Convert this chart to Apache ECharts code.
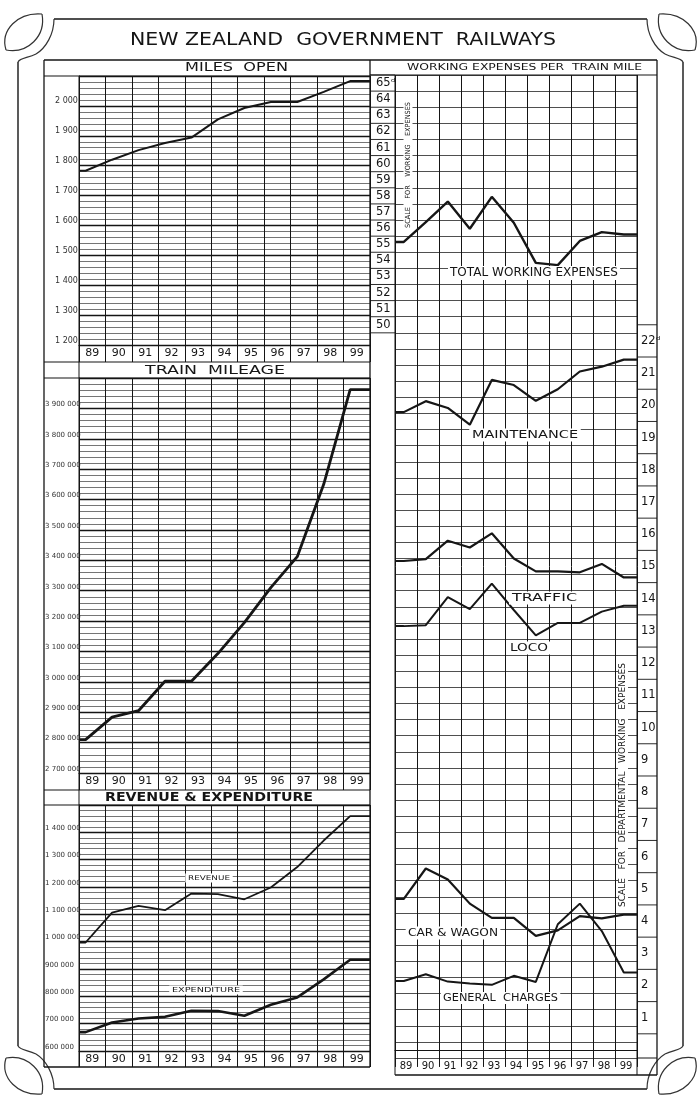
<!DOCTYPE html>
<html><head><meta charset="utf-8">
<script src="https://cdn.jsdelivr.net/npm/echarts@6/dist/echarts.min.js"></script>
<style>html,body{margin:0;padding:0;background:#fff;}#c{width:700px;height:1110px;}</style>
</head><body><div id="c"></div>
<script>
// ---------------- DATA ----------------
const years = ['89','90','91','92','93','94','95','96','97','98','99'];
const milesOpen = [1783, 1820, 1852, 1876, 1894, 1955, 1993, 2013, 2013, 2047, 2083];
const trainMileage = [2810000, 2884000, 2905000, 3002000, 3002000, 3093000, 3195000, 3310000, 3412000, 3650000, 3962000];
const revenue = [997000, 1106000, 1131000, 1115000, 1176000, 1174000, 1155000, 1198000, 1273000, 1370000, 1459000];
const expenditure = [669000, 704000, 719000, 725000, 747000, 746000, 729000, 769000, 796000, 862000, 934000];
// working expenses per train mile (pence)
const totalWorking = [55.14, 56.37, 57.65, 55.96, 57.94, 56.33, 53.84, 53.70, 55.20, 55.75, 55.60];
const maintenance = [19.79, 20.13, 19.92, 19.40, 20.79, 20.63, 20.14, 20.50, 21.05, 21.20, 21.42];
const traffic = [15.17, 15.23, 15.80, 15.59, 16.03, 15.25, 14.85, 14.85, 14.82, 15.08, 14.66];
const loco = [13.15, 13.18, 14.05, 13.68, 14.47, 13.65, 12.86, 13.25, 13.25, 13.60, 13.78];
const carWagon = [4.69, 5.63, 5.29, 4.54, 4.10, 4.10, 3.54, 3.71, 4.15, 4.08, 4.20];
const generalCharges = [2.14, 2.35, 2.12, 2.06, 2.02, 2.30, 2.11, 3.90, 4.54, 3.69, 2.40];
const totalScaleLabels = [50,51,52,53,54,55,56,57,58,59,60,61,62,63,64,65];
const deptScaleLabels = [1,2,3,4,5,6,7,8,9,10,11,12,13,14,15,16,17,18,19,20,21,22];

// ---------------- HELPERS ----------------
const OFF_L = 0.25, OFF_R = 0.4;
function pts(vals, off){
  const a = [[0, vals[0]]];
  vals.forEach((v,i)=>a.push([i+off, v]));
  a.push([years.length, vals[vals.length-1]]);
  return a;
}
const spaced = v => String(v).replace(/\B(?=(\d{3})+(?!\d))/g, ' ');
const FF = 'DejaVu Sans';
const INK = '#151515';

function catX(grid, fs, tickLen){
  return {gridIndex:grid, type:'category', data:years, boundaryGap:true, position:'bottom',
    axisLine:{show:true, lineStyle:{color:INK, width:1}},
    axisTick:{show:true, interval:0, length:tickLen, inside:false, lineStyle:{color:INK, width:1}},
    axisLabel:{show:true, interval:0, fontSize:fs, fontFamily:FF, color:INK, margin:3},
    splitLine:{show:true, interval:0, lineStyle:{color:INK, width:1}}};
}
function valX(grid){ return {gridIndex:grid, type:'value', min:0, max:years.length, show:false}; }
function leftY(grid, min, max, margin, fs){
  return {gridIndex:grid, type:'value', min, max, interval:100*(max>100000?1000:1),
    axisLine:{show:true, lineStyle:{color:INK, width:1}}, axisTick:{show:false},
    axisLabel:{show:true, formatter:v=> v===max ? '' : spaced(v), align:'left', margin,
      fontSize:fs, fontFamily:FF, color:'#333', verticalAlign:'bottom', lineHeight:fs+1},
    splitLine:{show:true, lineStyle:{color:INK, width:1.4}},
    minorTick:{show:false, splitNumber:5},
    minorSplitLine:{show:true, lineStyle:{color:'#3a3a3a', width:0.7}}};
}
function lineS(xi, yi, data, w){
  return {type:'line', xAxisIndex:xi, yAxisIndex:yi, data, symbol:'none', silent:true,
    lineStyle:{color:'#161616', width:w}, z:3};
}

const grids = [
  {left:79, top:76, width:291, height:269},
  {left:79, top:378, width:291, height:395},
  {left:79, top:805, width:291, height:246},
  {left:395, top:75, width:242, height:983}
].map(g=>Object.assign(g,{containLabel:false, outerBoundsMode:'none', show:false}));

const option = {
  animation:false,
  backgroundColor:'#ffffff',
  grid: grids,
  xAxis: [catX(0,11,17), valX(0), catX(1,11,17), valX(1), catX(2,11,16), valX(2), catX(3,10,17), valX(3)],
  yAxis: [
    leftY(0, 1200, 2100, 24, 8),
    leftY(1, 2700000, 4000000, 34, 7),
    leftY(2, 600000, 1500000, 34, 7),
    {gridIndex:3, type:'value', min:-0.25, max:30.25, position:'right',
      axisLine:{show:false}, axisTick:{show:false, customValues:deptScaleLabels}, splitLine:{show:false},
      axisLabel:{show:true, customValues:deptScaleLabels, formatter:v=> v===22 ? '22ᵈ' : String(v),
        align:'left', margin:4, fontSize:11.5, fontFamily:FF, color:INK}},
    {gridIndex:3, type:'value', min:4.5, max:65.5, position:'left',
      axisLine:{show:false}, axisTick:{show:false, customValues:totalScaleLabels}, splitLine:{show:false},
      axisLabel:{show:true, customValues:totalScaleLabels, formatter:v=> v===65 ? '65ᵈ' : String(v),
        align:'left', margin:19, fontSize:11.5, fontFamily:FF, color:INK}},
    {gridIndex:3, type:'value', min:0, max:61, interval:1, position:'left',
      axisLine:{show:false}, axisTick:{show:false}, axisLabel:{show:false},
      splitLine:{show:true, lineStyle:{color:'#222', width:0.8}}}
  ],
  series: [
    lineS(1, 0, pts(milesOpen, OFF_L), 2),
    lineS(3, 1, pts(trainMileage, OFF_L), 2.8),
    lineS(5, 2, pts(revenue, OFF_L), 1.8),
    lineS(5, 2, pts(expenditure, OFF_L), 2.6),
    lineS(7, 4, pts(totalWorking, OFF_R), 2.4),
    lineS(7, 3, pts(maintenance, OFF_R), 2.2),
    lineS(7, 3, pts(traffic, OFF_R), 2.2),
    lineS(7, 3, pts(loco, OFF_R), 2),
    lineS(7, 3, pts(carWagon, OFF_R), 2.2),
    lineS(7, 3, pts(generalCharges, OFF_R), 2)
  ]
};

const chart = echarts.init(document.getElementById('c'), null, {renderer:'canvas'});
chart.setOption(option);

// ---------------- DECORATION / TEXT ----------------
const G = [];
const L = (x1,y1,x2,y2,w,c) => G.push({type:'line', silent:true, z:1, shape:{x1,y1,x2,y2}, style:{stroke:c||INK, lineWidth:w||1}});
const mctx = document.createElement('canvas').getContext('2d');
function txt(text, a0, a1, c, size, o){
  o = o || {};
  const font = (o.weight||'normal') + ' ' + size + 'px "' + (o.family||FF) + '"';
  mctx.font = font;
  const w = mctx.measureText(text).width;
  const len = Math.abs(a1 - a0);
  const el = {type:'text', silent:true, z:20,
    x: o.vertical ? c : (a0+a1)/2, y: o.vertical ? (a0+a1)/2 : c,
    rotation: o.vertical ? Math.PI/2 : 0, scaleX: len / w,
    style:{text, font, fill:INK, align:'center', verticalAlign:'middle', textAlign:'center', textVerticalAlign:'middle'}};
  if (o.bg){ el.style.backgroundColor = '#fff'; el.style.padding = o.pad || [1,2]; }
  return el;
}
// outer ornamental frame
L(54,19,647,19,1.4); L(54,1089,647,1089,1.4); L(18,62,18,1046,1.4); L(683,62,683,1046,1.4);
function corner(fx, fy){
  const X = x => fx ? 701 - x : x, Y = y => fy ? 1108 - y : y;
  const bz = (p) => G.push({type:'bezierCurve', silent:true, z:1,
    shape:{x1:X(p[0]),y1:Y(p[1]),cpx1:X(p[2]),cpy1:Y(p[3]),cpx2:X(p[4]),cpy2:Y(p[5]),x2:X(p[6]),y2:Y(p[7])},
    style:{stroke:'#333', lineWidth:1.2, fill:'none'}});
  // concave corner cut joining the two border lines
  bz([54,19, 54,34, 46,48, 36,54]);
  bz([36,54, 28,58, 20,58, 18,62]);
  // leaf-shaped loop outside the corner
  bz([6,50, 0,30, 18,12, 42,14]);
  bz([6,50, 28,54, 46,36, 42,14]);
}
corner(false,false); corner(true,false); corner(false,true); corner(true,true);
// left box
L(44,60,657,60,1.3);
L(44,60,44,1067,1.3); L(370,60,370,1067,1.3); L(44,1067,370,1067,1.3);
[76,362,378,790,805].forEach(y=>L(44,y,370,y,1.1));
L(79,76,79,1067,1);
// right box
L(657,60,657,1075,1.3); L(370,75,657,75,1); L(395,75,395,1075,1); L(637,75,637,1075,1);
L(395,1075,657,1075,1.3); L(637,1058,657,1058,1);
// scale columns separators through the library's axes
for (let t = 49.5; t <= 65.5; t += 1){ const y = chart.convertToPixel({yAxisIndex:4}, t); L(370,y,395,y,0.9); }
for (let d = 0.5; d <= 22.5; d += 1){ const y = chart.convertToPixel({yAxisIndex:3}, d); L(637,y,657,y,0.9); }
// headings
G.push(txt('NEW ZEALAND  GOVERNMENT  RAILWAYS', 130, 556, 40, 18));
G.push(txt('MILES  OPEN', 185, 288, 68, 11.5));
G.push(txt('TRAIN  MILEAGE', 145, 285, 370.5, 13));
G.push(txt('REVENUE & EXPENDITURE', 105, 313, 797.5, 12.5, {weight:'bold'}));
G.push(txt('WORKING EXPENSES PER  TRAIN MILE', 407, 642, 68, 9.5));
// annotations
G.push(txt('TOTAL WORKING EXPENSES', 450, 618, 273, 12, {bg:true}));
G.push(txt('MAINTENANCE', 472, 578, 435, 10.5, {bg:true}));
G.push(txt('TRAFFIC', 512, 577, 598, 10.5, {bg:true}));
G.push(txt('LOCO', 510, 548, 648, 10.5, {bg:true}));
G.push(txt('CAR & WAGON', 408, 498, 933, 10.5, {bg:true}));
G.push(txt('GENERAL  CHARGES', 443, 558, 998, 10, {bg:true}));
G.push(txt('REVENUE', 188, 230, 878, 6.5, {bg:true}));
G.push(txt('EXPENDITURE', 172, 240, 990, 7, {bg:true}));
G.push(txt('SCALE    FOR    WORKING    EXPENSES', 228, 102, 408, 7, {vertical:true, bg:true, pad:[1,1]}));
G.push(txt('SCALE   FOR   DEPARTMENTAL   WORKING   EXPENSES', 907, 663, 623, 8, {vertical:true, bg:true, pad:[1,1]}));

chart.setOption({graphic:{elements:G}});
</script></body></html>
